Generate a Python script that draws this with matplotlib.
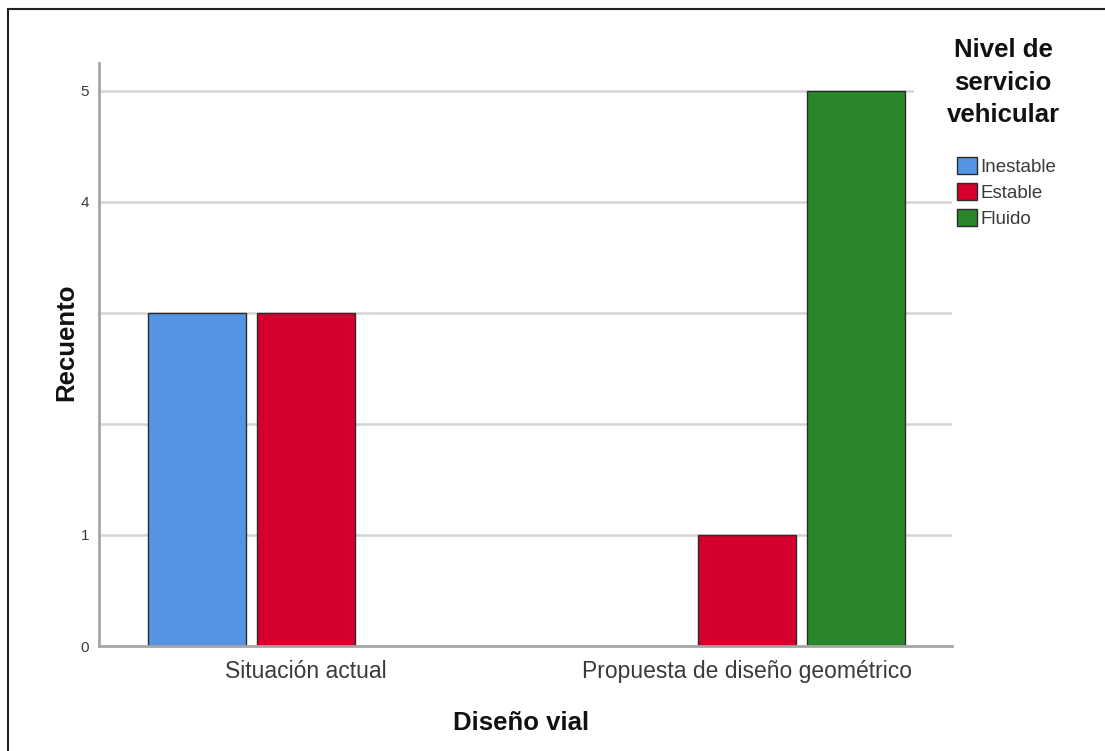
import matplotlib
matplotlib.use("Agg")
import matplotlib.pyplot as plt
import numpy as np
from matplotlib.lines import Line2D

plt.rcParams["font.family"] = ["Liberation Sans", "DejaVu Sans"]

# Data
categories = ["Situación actual", "Propuesta de diseño geométrico"]
series_names = ["Inestable", "Estable", "Fluido"]
counts = {
    "Inestable": [3, 0],
    "Estable": [3, 1],
    "Fluido": [0, 5],
}
colors = {"Inestable": "#5494E2", "Estable": "#D5002F", "Fluido": "#29862B"}
y_ticks = [0, 1, 2, 3, 4, 5]
y_tick_labels = ["0", "1", "", "", "4", "5"]
legend_title = "Nivel de\nservicio\nvehicular"
x_title = "Diseño vial"
y_title = "Recuento"

W, H = 1105, 751
fig = plt.figure(figsize=(W / 100, H / 100), dpi=100)
ax = fig.add_axes([99 / W, 1 - 646 / H, (952 - 99) / W, (646 - 63) / H])

x = np.arange(len(categories))
offset = 0.247
width = 0.222
handles = []
for i, name in enumerate(series_names):
    vals = counts[name]
    keep = [j for j, v in enumerate(vals) if v > 0]
    b = ax.bar(x[keep] + (i - 1) * offset, [vals[j] for j in keep], width=width,
               color=colors[name], edgecolor="#2b2b2b", linewidth=1.0, zorder=3,
               label=name)
    handles.append(b)

ax.set_xlim(-0.469, 1.465)
ax.set_ylim(0, 5.252)

# horizontal grid
for yv in y_ticks[1:]:
    xmax = 0.953 if yv == 5 else 1.0
    ax.axhline(yv, xmin=0, xmax=xmax, color="#d4d4d4", linewidth=1.8, zorder=1)

for s in ["top", "right"]:
    ax.spines[s].set_visible(False)
for s in ["left", "bottom"]:
    ax.spines[s].set_color("#a6a6a6")
    ax.spines[s].set_linewidth(2.0)
ax.spines["bottom"].set_zorder(4)

ax.set_yticks(y_ticks)
ax.set_yticklabels(y_tick_labels)
ax.set_xticks(x)
ax.set_xticklabels(categories)
ax.tick_params(axis="y", length=0, pad=7, labelsize=11, labelcolor="#3a3a3a")
ax.tick_params(axis="x", length=0, pad=10, labelsize=16.5, labelcolor="#3a3a3a")

fig.text(521 / W, 1 - 723 / H, x_title, ha="center", va="center",
         fontsize=18.5, fontweight="bold", color="#111111")
fig.text(66 / W, 1 - 342 / H, y_title, ha="center", va="center", rotation=90,
         fontsize=18.5, fontweight="bold", color="#111111")

fig.text(1003 / W, 1 - 82.5 / H, legend_title, ha="center", va="center",
         fontsize=18.5, fontweight="bold", color="#111111", linespacing=1.45)

leg = ax.legend(handles=handles, labels=series_names, loc="upper left",
                bbox_to_anchor=(957 / W, 1 - 157 / H), bbox_transform=fig.transFigure,
                frameon=False, fontsize=13.5, handlelength=1.05, handleheight=1.0,
                handletextpad=0.2, labelspacing=0.38, borderpad=0, borderaxespad=0)
for t in leg.get_texts():
    t.set_color("#3a3a3a")

# outer frame (left and top edges)
fig.add_artist(Line2D([8 / W, 8 / W], [0, 1 - 9 / H], transform=fig.transFigure,
                      color="#222222", linewidth=1.5))
fig.add_artist(Line2D([8 / W, 1], [1 - 9 / H, 1 - 9 / H], transform=fig.transFigure,
                      color="#222222", linewidth=1.5))

fig.savefig("out.png", dpi=100)
